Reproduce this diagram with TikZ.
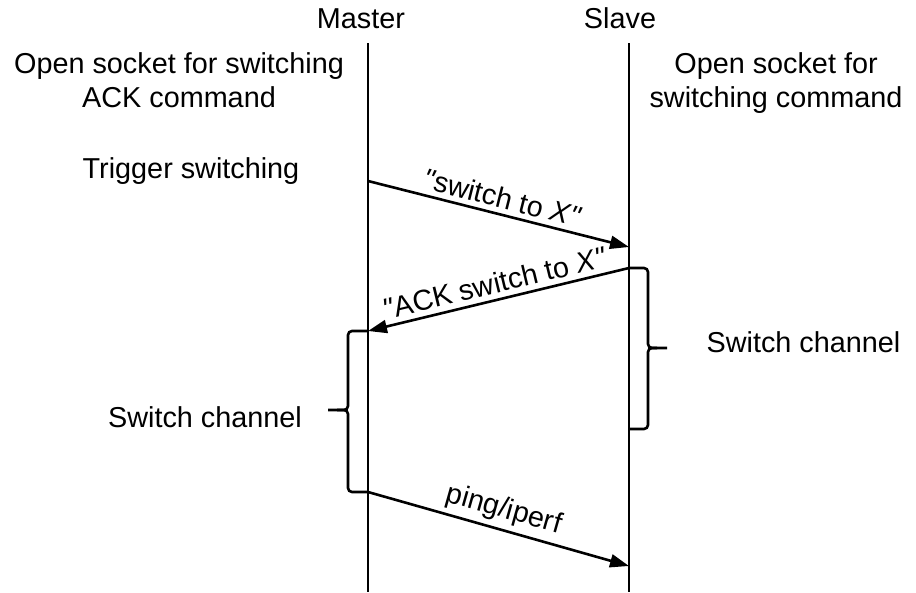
\documentclass[tikz,border=0pt]{standalone}
\usepackage{fontspec}
\setmainfont{Liberation Sans}[Ligatures=TeXOff]
\usetikzlibrary{arrows.meta}
\begin{document}
\begin{tikzpicture}[x=1pt,y=-1pt,
  every node/.style={font=\fontsize{28.8}{34}\selectfont, inner sep=0pt, text=black},
  lifeline/.style={line width=2.6pt},
  msg/.style={line width=2.6pt, -{Triangle[length=19pt,width=13pt]}},
  bracepath/.style={line width=2.6pt, rounded corners=4pt},
  lbl/.style={anchor=base, align=center},
  msglbl/.style={midway, sloped, above=5pt}]
\useasboundingbox[fill=white] (0,0) rectangle (916,592);
% lifelines
\coordinate (mtop) at (368,43);
\coordinate (mbot) at (368,592);
\coordinate (stop) at (629,43);
\coordinate (sbot) at (629,592);
\draw[lifeline] (mtop) -- (mbot);
\draw[lifeline] (stop) -- (sbot);
% headers
\node[lbl] (master) at (361,28) {Master};
\node[lbl] (slave) at (620,28) {Slave};
\node[lbl] (mopen) at (179,107) {Open socket for switching\\ACK command};
\node[lbl] (sopen) at (776,107) {Open socket for\\switching command};
\node[lbl] (trig) at (191,178) {Trigger switching};
% message points
\coordinate (m1) at (368,181);
\coordinate (s1) at (629,247);
\coordinate (s2) at (629,268);
\coordinate (m2) at (368,331);
\coordinate (m3) at (368,492);
\coordinate (s3) at (629,566);
\coordinate (sb) at (629,429);
% messages
\draw[msg] (m1) -- node[msglbl] (l1) {\textit{"}switch to \textit{X"}} (s1);
\draw[msg] (s2) -- node[msglbl] (l2) {\textit{"}ACK switch to \textit{X"}} (m2);
\draw[msg] (m3) -- node[msglbl] (l3) {ping/iperf} (s3);
% left brace
\draw[bracepath] (m2) -- (348,331) -- (348,410) -- (328,410);
\draw[bracepath] (337,410) -- (348,410) -- (348,492) -- (m3);
% right brace
\draw[bracepath] (s2) -- (648,268) -- (648,348) -- (667,348);
\draw[bracepath] (657,348) -- (648,348) -- (648,429) -- (sb);
% brace labels
\node[lbl] (rsw) at (803.5,352) {Switch channel};
\node[lbl] (lsw) at (205,427) {Switch channel};
\end{tikzpicture}
\end{document}
